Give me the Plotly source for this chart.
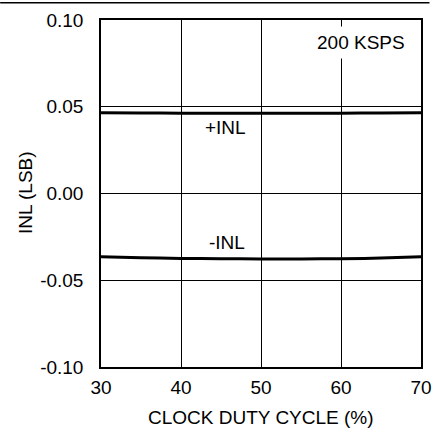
import plotly.graph_objects as go

duty = [30, 35, 40, 45, 50, 55, 60, 65, 70]
inl_pos = [0.0466, 0.0464, 0.0463, 0.0462, 0.0462, 0.0462, 0.0463, 0.0464, 0.0466]
inl_neg = [-0.0365, -0.0370, -0.0374, -0.0376, -0.0377, -0.0377, -0.0376, -0.0372, -0.0365]

x_ticks = [30, 40, 50, 60, 70]
y_ticks = [-0.10, -0.05, 0.00, 0.05, 0.10]
y_tick_text = ["-0.10", "-0.05", "0.00", "0.05", "0.10"]

FONT = "Liberation Sans, Arial, sans-serif"
FS = 19

fig = go.Figure()
fig.add_trace(go.Scatter(x=duty, y=inl_pos, mode="lines", line=dict(color="black", width=3, shape="spline"), showlegend=False))
fig.add_trace(go.Scatter(x=duty, y=inl_neg, mode="lines", line=dict(color="black", width=3, shape="spline"), showlegend=False))

L, R, T, B = 101, 13.5, 20, 62
W, H = 435, 429
pw = W - L - R
ph = H - T - B

fig.update_layout(
    width=W, height=H, autosize=False,
    margin=dict(l=L, r=R, t=T, b=B, pad=0, autoexpand=False),
    paper_bgcolor="white", plot_bgcolor="white",
    font=dict(family=FONT, size=FS, color="black"),
    xaxis=dict(range=[30, 70], tickvals=x_ticks, showgrid=True, gridcolor="black", gridwidth=1,
               showline=True, linecolor="black", linewidth=1.5, mirror=True, zeroline=False,
               ticks="", ticklabelstandoff=2, tickfont=dict(size=FS), automargin=False),
    yaxis=dict(range=[-0.10, 0.10], tickvals=y_ticks, ticktext=y_tick_text, showgrid=True,
               gridcolor="black", gridwidth=1, showline=True, linecolor="black", linewidth=1.5,
               mirror=True, zeroline=False, ticks="", ticklabelstandoff=12, tickfont=dict(size=FS),
               automargin=False),
    annotations=[
        dict(text="CLOCK DUTY CYCLE (%)", xref="paper", yref="paper", x=(261 - L) / pw,
             y=(H - B - 417) / ph, showarrow=False, font=dict(size=FS), xanchor="center", yanchor="middle"),
        dict(text="INL (LSB)", xref="paper", yref="paper", x=(25 - L) / pw, y=(H - B - 193) / ph,
             textangle=-90, showarrow=False, font=dict(size=FS), xanchor="center", yanchor="middle"),
        dict(text="200 KSPS", x=62.5, y=0.0872, showarrow=False, bgcolor="white",
             font=dict(size=FS), xanchor="center", yanchor="middle", borderpad=5),
        dict(text="+INL", x=45.6, y=0.0382, showarrow=False, font=dict(size=FS),
             xanchor="center", yanchor="middle"),
        dict(text="-INL", x=45.75, y=-0.0280, showarrow=False, font=dict(size=FS),
             xanchor="center", yanchor="middle"),
    ],
    shapes=[
        dict(type="line", xref="paper", yref="paper", x0=(0 - L) / pw, x1=(430 - L) / pw,
             y0=(H - B - 2.7) / ph, y1=(H - B - 2.7) / ph, line=dict(color="black", width=1.5)),
    ],
)

fig.write_html(
    "out.html",
    config={"displayModeBar": False, "responsive": False},
    post_script="document.body.style.margin='0';document.body.style.padding='0';document.body.style.overflow='hidden';",
)
